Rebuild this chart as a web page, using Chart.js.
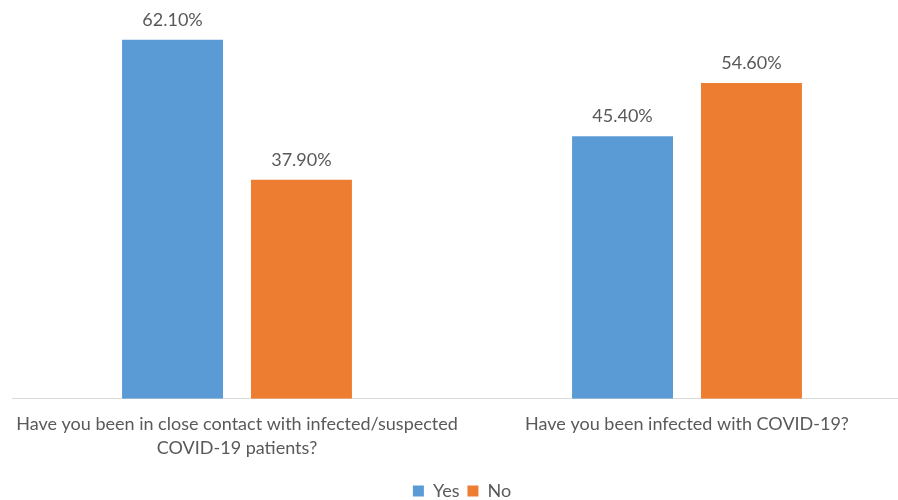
<!DOCTYPE html>
<html lang="en">
<head>
<meta charset="utf-8">
<title>COVID-19 exposure</title>
<script src="https://cdn.jsdelivr.net/npm/chart.js@4.4.1/dist/chart.umd.min.js"></script>
<style>
    html, body { margin: 0; padding: 0; background: #fff; overflow: hidden; }
    .wrap { width: 898px; height: 500px; overflow: hidden; }
    canvas { display: block; }
</style>
</head>
<body>
<div class="wrap">
    <canvas id="chartExposure" width="924" height="500"></canvas>
</div>
<script>
const categorias = [
    ['Have you been in close contact with infected/suspected', 'COVID-19 patients?'],
    'Have you been infected with COVID-19?'
];
const seriesNombres = ['Yes', 'No'];
const valoresYes = [62.1, 45.4];
const valoresNo = [37.9, 54.6];

const GRIS = '#595959';
const FUENTE = 'Lato, "Open Sans", sans-serif';

// etiquetas de porcentaje encima de cada barra
const etiquetasBarras = {
    id: 'etiquetasBarras',
    afterDatasetsDraw(chart) {
        const ctx = chart.ctx;
        ctx.save();
        ctx.font = `18px ${FUENTE}`;
        ctx.fillStyle = GRIS;
        ctx.textAlign = 'center';
        ctx.textBaseline = 'alphabetic';
        chart.data.datasets.forEach((ds, i) => {
            chart.getDatasetMeta(i).data.forEach((bar, j) => {
                ctx.fillText(ds.data[j].toFixed(2) + '%', bar.x, bar.y - 14);
            });
        });
        ctx.restore();
    }
};

document.addEventListener('DOMContentLoaded', () => {
    renderizarGrafico();
});

function renderizarGrafico() {
    const ctx = document.getElementById('chartExposure').getContext('2d');

    new Chart(ctx, {
        type: 'bar',
        data: {
            labels: categorias,
            datasets: [
                { label: seriesNombres[0], data: valoresYes, backgroundColor: '#5B9BD5' },
                { label: seriesNombres[1], data: valoresNo, backgroundColor: '#ED7D31' }
            ]
        },
        options: {
            responsive: false,
            animation: false,
            categoryPercentage: 0.573,
            barPercentage: 0.783,
            layout: { padding: { top: 23, left: 12, right: 12, bottom: -10 } },
            scales: {
                y: { display: false, min: 0, max: 65 },
                x: {
                    grid: { display: false, drawTicks: false },
                    border: { display: true, color: '#d9d9d9', width: 1 },
                    ticks: {
                        color: GRIS,
                        padding: 13,
                        maxRotation: 0,
                        font: { family: FUENTE, size: 18, lineHeight: 1.37 }
                    }
                }
            },
            plugins: {
                tooltip: { enabled: false },
                legend: {
                    position: 'bottom',
                    labels: {
                        color: GRIS,
                        boxWidth: 11,
                        boxHeight: 11,
                        padding: 8,
                        font: { family: FUENTE, size: 18 }
                    }
                }
            }
        },
        plugins: [etiquetasBarras]
    });
}
</script>
</body>
</html>
